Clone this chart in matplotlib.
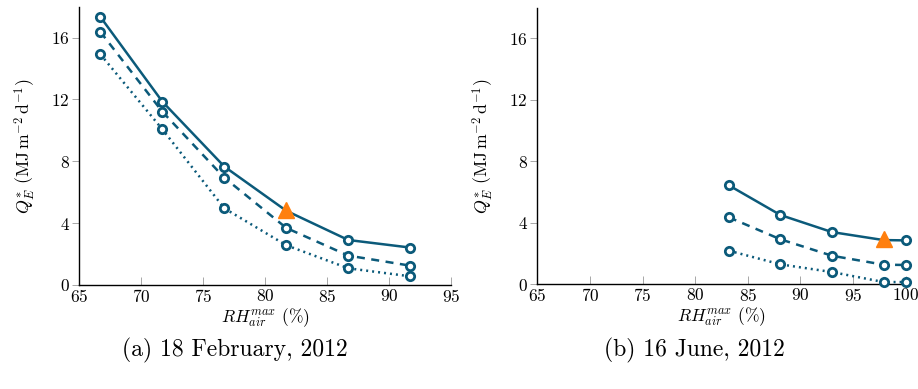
import matplotlib
matplotlib.use("Agg")
import matplotlib.pyplot as plt

plt.rcParams['font.family'] = ['cmr10', 'DejaVu Serif']
plt.rcParams['mathtext.fontset'] = 'cm'
plt.rcParams['axes.formatter.use_mathtext'] = True

# Panel (a) 18 February 2012
rh_a = [66.7, 71.7, 76.7, 81.7, 86.7, 91.7]
solid_a = [17.34, 11.86, 7.66, 4.80, 2.91, 2.42]
dashed_a = [16.37, 11.21, 6.94, 3.69, 1.90, 1.25]
dotted_a = [14.92, 10.07, 4.96, 2.57, 1.08, 0.56]
tri_a = (81.7, 4.88)

# Panel (b) 16 June 2012
rh_b = [83.2, 88.1, 93.0, 97.9, 100.0]
solid_b = [6.44, 4.51, 3.40, 2.88, 2.86]
dashed_b = [4.36, 2.93, 1.86, 1.28, 1.26]
dotted_b = [2.19, 1.30, 0.80, 0.15, 0.15]
tri_b = (97.9, 2.95)

captions = ["(a) 18 February, 2012", "(b) 16 June, 2012"]
yticks = [0, 4, 8, 12, 16]

col = '#0b5a7a'
orange = '#ff7f0e'

fig = plt.figure(figsize=(9.18, 3.89), dpi=100)
ax1 = fig.add_axes([0.0864, 0.2674, 0.405, 0.7154])
ax2 = fig.add_axes([0.5853, 0.2690, 0.4013, 0.7114])

panels = [
    (ax1, rh_a, solid_a, dashed_a, dotted_a, tri_a, (65, 95), list(range(65, 96, 5)), 3),
    (ax2, rh_b, solid_b, dashed_b, dotted_b, tri_b, (65, 100), list(range(65, 101, 5)), 3),
]

for ax, x, s, d, o, tri, xlim, xt, tri_idx in panels:
    mk = dict(marker='o', markersize=6, markerfacecolor='white',
              markeredgecolor=col, markeredgewidth=2.0, color=col, lw=1.8,
              clip_on=False)
    s_marks = [i for i in range(len(x)) if i != tri_idx]
    ax.plot(x, s, linestyle='-', markevery=s_marks, **mk, zorder=3)
    ax.plot(x, d, linestyle=(0, (3.2, 2.6)), **mk, zorder=3)
    ax.plot(x, o, linestyle=(0, (0.8, 1.6)), **mk, zorder=3)
    ax.plot([tri[0]], [tri[1]], marker='^', markersize=11, color=orange,
            linestyle='none', zorder=5, clip_on=False)
    ax.set_xlim(*xlim)
    ax.set_ylim(0, 18)
    ax.set_xticks(xt)
    ax.set_yticks(yticks)
    for sp in ['top', 'right']:
        ax.spines[sp].set_visible(False)
    for sp in ['left', 'bottom']:
        ax.spines[sp].set_linewidth(1.0)
    ax.tick_params(axis='x', direction='in', length=6, width=0.6, color='#999999',
                   labelsize=12.5, pad=2)
    ax.tick_params(axis='y', direction='out', length=5, width=0.6, color='#999999',
                   labelsize=12.5, pad=2)
    ax.set_xlabel(r'$RH_{air}^{max}$ (%)', fontsize=12.5, labelpad=1)
    ax.set_ylabel(r'$Q_E^{*}$ $(\mathrm{MJ\,m^{-2}\,d^{-1}})$', fontsize=12.8, labelpad=9)

fig.text(0.256, 0.10, captions[0], ha='center', va='center', fontsize=17)
fig.text(0.757, 0.10, captions[1], ha='center', va='center', fontsize=17)

fig.savefig('out.png', dpi=100)
